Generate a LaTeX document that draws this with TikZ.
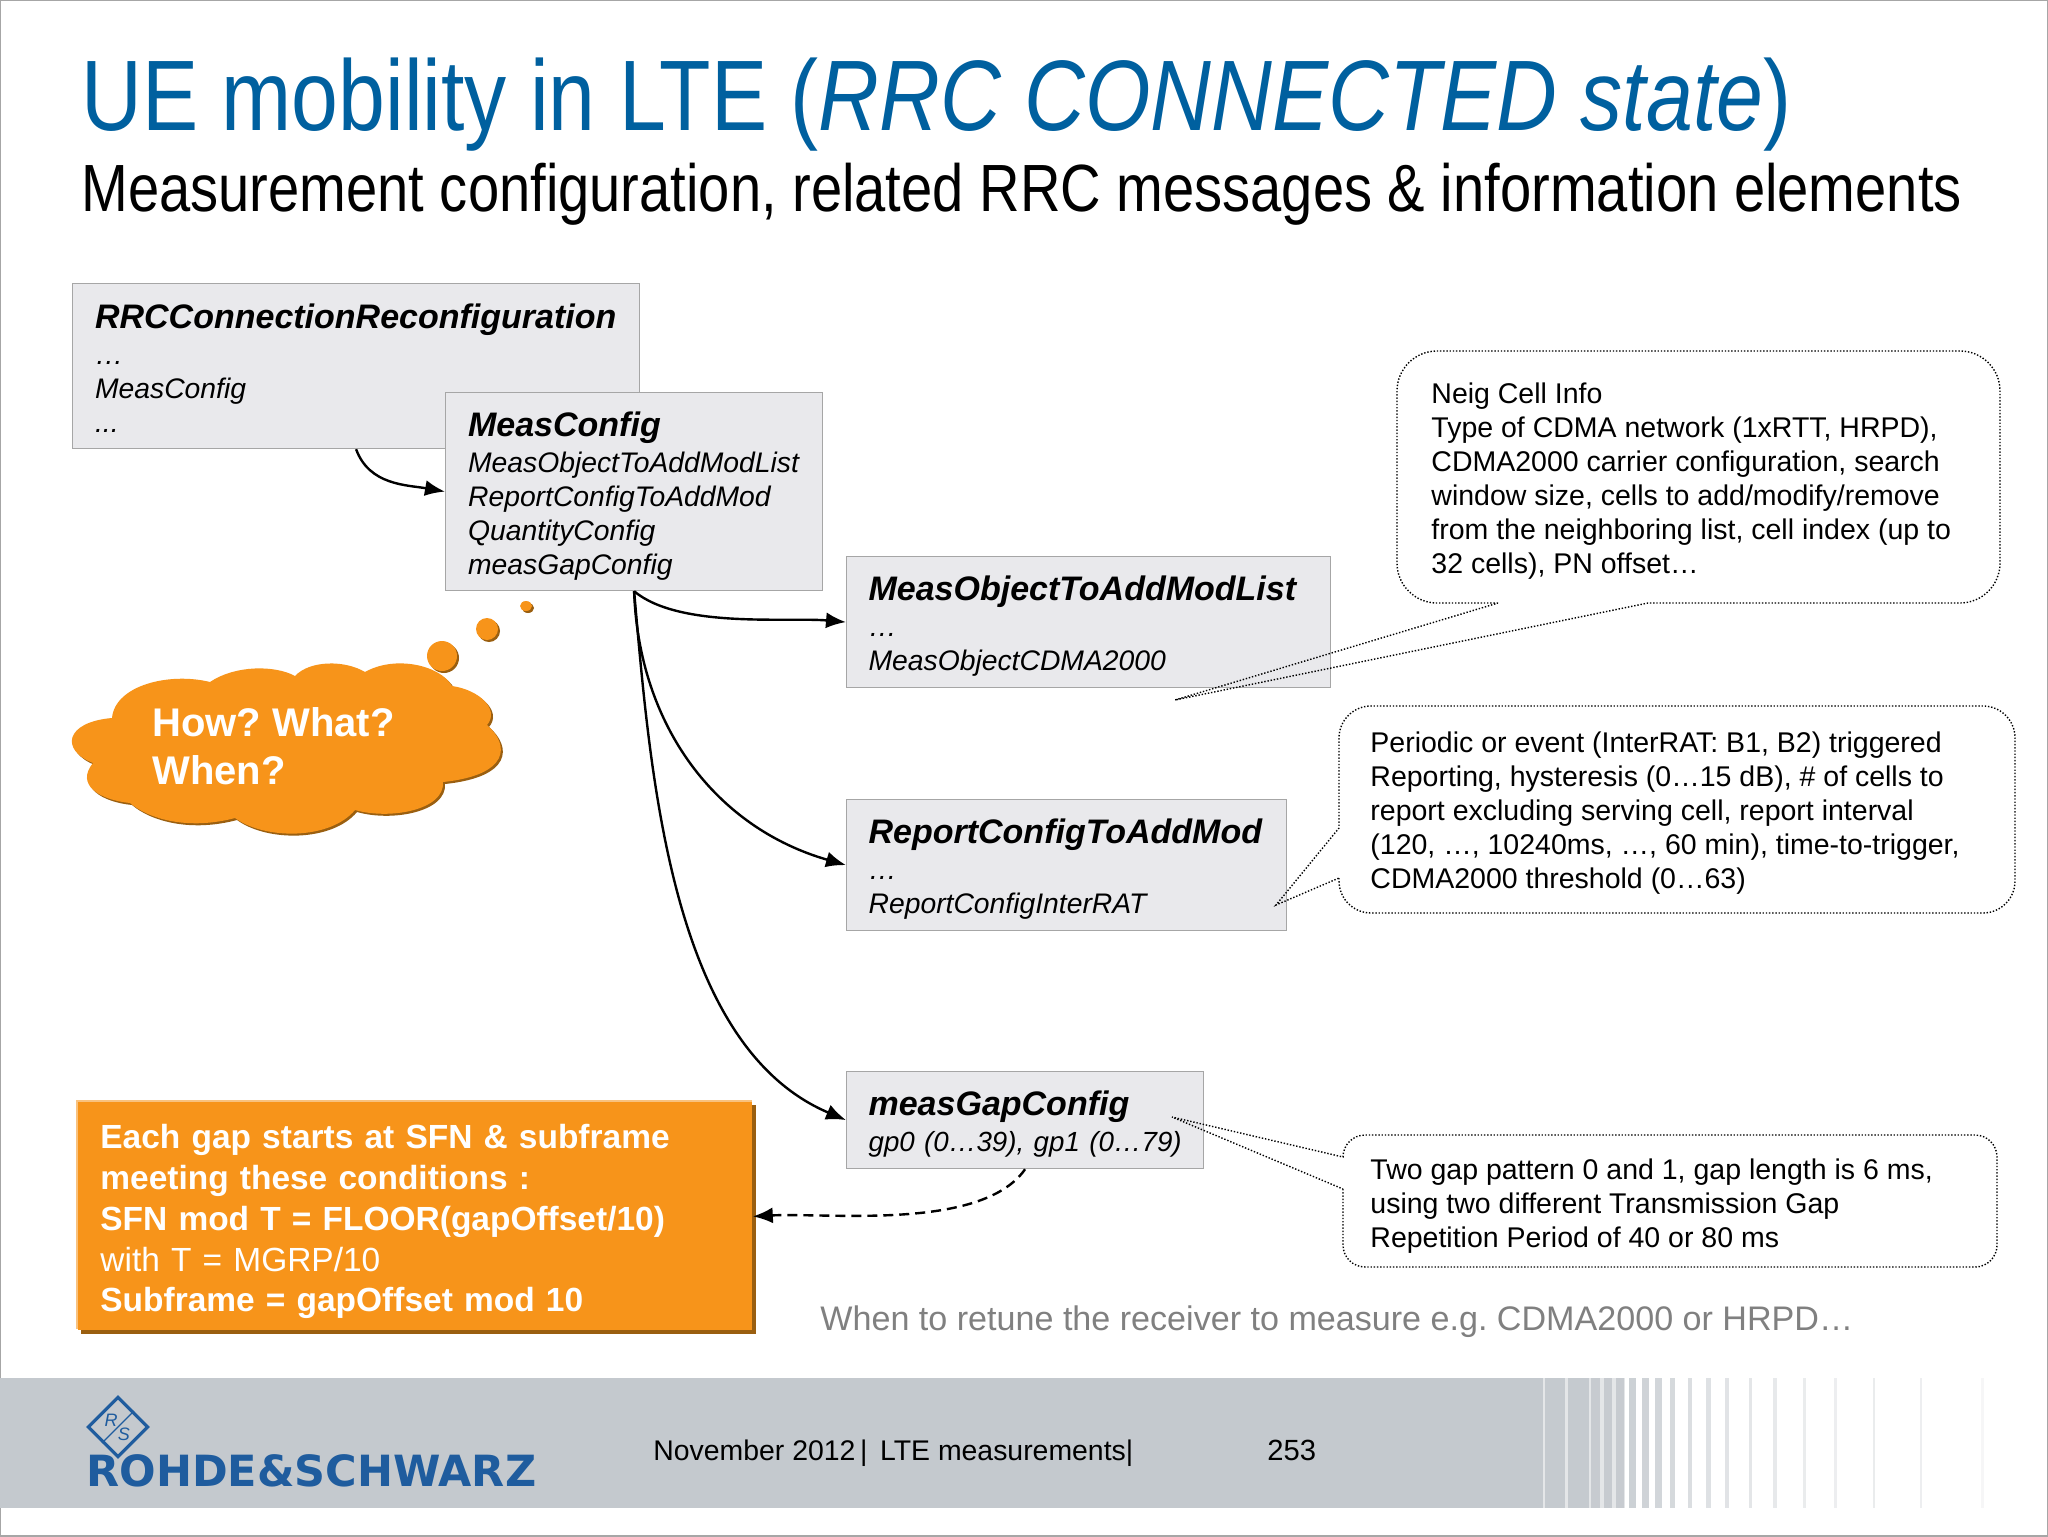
\documentclass[tikz,border=0pt]{standalone}
\usepackage{fontspec}
\setmainfont{Liberation Sans}
\newfontfamily\titlefont[FakeStretch=0.84]{Liberation Sans}
\newfontfamily\logofont{DejaVu Sans}
\usetikzlibrary{arrows.meta}
\definecolor{rsblue}{HTML}{00609F}
\definecolor{logoblue}{HTML}{1F5C9E}
\definecolor{rsorange}{HTML}{F7941A}
\definecolor{rslight}{HTML}{F9C27E}
\definecolor{rsshadow}{HTML}{9A5F10}
\definecolor{boxgrey}{HTML}{E9E9EC}
\definecolor{boxline}{HTML}{A6A6A6}
\definecolor{bandgrey}{HTML}{C4C9CE}
\definecolor{notegrey}{HTML}{808080}
\tikzset{
  msgbox/.style={draw=boxline, fill=boxgrey, line width=0.6pt, anchor=north west, align=left, inner xsep=11pt, inner ysep=0pt, font=\fontsize{14.15}{17}\selectfont\itshape},
  notetext/.style={anchor=north west, align=left, inner sep=0pt, font=\fontsize{14.25}{17}\selectfont},
  notebox/.style={draw=black, line width=0.7pt, dash pattern=on 0.7pt off 0.9pt},
  conn/.style={line width=1.2pt, -{Latex[length=10pt,width=8pt]}},
}
\newcommand{\msgtitle}[1]{{\fontsize{17}{20}\selectfont\bfseries\rule{0pt}{16.5pt}#1}}
\begin{document}
\frenchspacing
\begin{tikzpicture}[x=0.5pt,y=-0.5pt]
\useasboundingbox (0,0) rectangle (2048,1536);
%page and footer band
\fill[white] (0,0) rectangle (2048,1536);
\draw[boxline, line width=1pt] (0,0) rectangle (2048,1536);
\fill[bandgrey] (0,1378) rectangle (1543,1508);
\fill[bandgrey, opacity=.45] (1543,1378) rectangle (1625,1508);
\foreach \xa/\xb/\op in {1545/1565/.95,1568/1589/.95,1591/1600/.9,1604/1612/.9,1616/1624/.9,1629/1636/.85,1642/1649/.8,1655/1662/.75,1670/1675/.7,1688/1692/.6,1706/1711/.55,1725/1729/.5,1749/1752/.45,1773/1777/.4,1803/1806/.35,1834/1837/.3,1873/1875/.35,1920/1922/.3,1981/1984/.15}
  \fill[bandgrey, opacity=\op] (\xa,1378) rectangle (\xb,1508);

%title
\node[anchor=base west, inner sep=0pt, text=rsblue, font=\titlefont\fontsize{50.1}{56}\selectfont] (title) at (81,131) {UE mobility in LTE (\textit{RRC CONNECTED state})};
\node[anchor=base west, inner sep=0pt, font=\titlefont\fontsize{33.4}{38}\selectfont] (subtitle) at (81,211) {Measurement configuration, related RRC messages \& information elements};

%message boxes
\node[msgbox, minimum width=283.5pt, minimum height=82.5pt, text width=261pt] (rrcbox) at (72,283) {\msgtitle{RRCConnectionReconfiguration}\\[1pt] \dots\\ MeasConfig\\ ...\rule[-2pt]{0pt}{2pt}};
\node[msgbox, minimum width=188.5pt, minimum height=99pt, text width=166pt] (measconfig) at (445,392) {\msgtitle{MeasConfig}\\[1pt] MeasObjectToAddModList\\ ReportConfigToAddMod\\ QuantityConfig\\ measGapConfig};
\node[msgbox, minimum width=242pt, minimum height=65.5pt, text width=220pt] (measobject) at (846,556) {\msgtitle{MeasObjectToAddModList}\\[1pt] \dots\\ MeasObjectCDMA2000};
\node[msgbox, minimum width=220pt, minimum height=65.5pt, text width=198pt] (reportconfig) at (846,799) {\msgtitle{ReportConfigToAddMod}\\[1pt] \dots\\ ReportConfigInterRAT};
\node[msgbox, minimum width=178.5pt, minimum height=48.5pt, text width=156.5pt] (measgap) at (846,1071) {\msgtitle{measGapConfig}\\[1pt] \mbox{\fontsize{13.85}{17}\selectfont gp0 (0\dots39), gp1 (0\dots79)}};

%orange box
\fill[rsshadow] (81,1105) rectangle (756,1334);
\fill[rslight] (76,1100) rectangle (752,1329);
\node[anchor=north west, fill=rsorange, minimum width=337pt, minimum height=114pt, inner xsep=11pt, inner ysep=0pt, text width=315pt, align=left, text=white, font=\fontsize{16.74}{20.4}\selectfont] (gapbox) at (78,1102) {\textbf{\rule{0pt}{17.5pt}Each gap starts at SFN \& subframe}\\ \textbf{meeting these conditions :}\\ \textbf{SFN mod T = FLOOR(gapOffset/10)}\\ with T = MGRP/10\\ \textbf{Subframe = gapOffset mod 10}};

%cloud
\foreach \dx/\col in {2/rsshadow,0/rsorange}{
  \fill[\col] (93+\dx,763+\dx) .. controls (60+\dx,750+\dx) and (65+\dx,722+\dx) .. (112+\dx,718+\dx)
    .. controls (115+\dx,685+\dx) and (170+\dx,672+\dx) .. (210+\dx,682+\dx)
    .. controls (235+\dx,665+\dx) and (275+\dx,665+\dx) .. (295+\dx,676+\dx)
    .. controls (310+\dx,660+\dx) and (345+\dx,660+\dx) .. (365+\dx,672+\dx)
    .. controls (395+\dx,655+\dx) and (440+\dx,665+\dx) .. (452+\dx,686+\dx)
    .. controls (480+\dx,690+\dx) and (500+\dx,710+\dx) .. (487+\dx,725+\dx)
    .. controls (510+\dx,745+\dx) and (510+\dx,775+\dx) .. (443+\dx,782+\dx)
    .. controls (445+\dx,810+\dx) and (390+\dx,820+\dx) .. (355+\dx,810+\dx)
    .. controls (330+\dx,840+\dx) and (265+\dx,840+\dx) .. (235+\dx,818+\dx)
    .. controls (190+\dx,830+\dx) and (150+\dx,820+\dx) .. (130+\dx,803+\dx)
    .. controls (100+\dx,800+\dx) and (75+\dx,785+\dx) .. (93+\dx,763+\dx) -- cycle;
  \fill[\col] (442+\dx,656+\dx) circle (15);
  \fill[\col] (487+\dx,629+\dx) circle (11);
  \fill[\col] (526+\dx,606+\dx) ellipse (6 and 5);
}
\node[anchor=north west, inner sep=0pt, align=left, text=white, font=\fontsize{20}{24}\selectfont\bfseries] (cloudtext) at (152,707) {How? What?\\ When?};

%notes
\draw[notebox] (1498,603) [rounded corners=20pt] -- (1397,603) -- (1397,351) -- (2000,351) -- (2000,603) [sharp corners] -- (1648,603) -- (1175,700) -- cycle;
\node[notetext] (cdmanote) at (1431,382) {Neig Cell Info\\ Type of CDMA network (1xRTT, HRPD),\\ CDMA2000 carrier configuration, search\\ window size, cells to add/modify/remove\\ from the neighboring list, cell index (up to\\ 32 cells), PN offset\dots};
\draw[notebox] (1339,878) [rounded corners=16pt] -- (1339,913) -- (2015,913) -- (2015,706) -- (1339,706) [sharp corners] -- (1339,828) -- (1276,905) -- cycle;
\node[notetext] (reportnote) at (1370,731) {Periodic or event (InterRAT: B1, B2) triggered\\ Reporting, hysteresis (0\dots15 dB), \# of cells to\\ report excluding serving cell, report interval\\ (120, \dots, 10240ms, \dots, 60 min), time-to-trigger,\\ CDMA2000 threshold (0\dots63)};
\draw[notebox] (1343,1189) [rounded corners=11pt] -- (1343,1267) -- (1997,1267) -- (1997,1135) -- (1343,1135) [sharp corners] -- (1343,1157) -- (1172,1117) -- cycle;
\node[notetext] (gapnote) at (1370,1158) {Two gap pattern 0 and 1, gap length is 6 ms,\\ using two different Transmission Gap\\ Repetition Period of 40 or 80 ms};

%connectors
\draw[conn] (rrcbox.south) to[out=-70,in=170] (measconfig.west);
\draw[conn] (measconfig.south) to[out=-40,in=175,looseness=.7] (measobject.west);
\draw[conn] (measconfig.south) to[out=-88,in=164] (reportconfig.west);
\draw[conn] (measconfig.south) to[out=-85,in=157,looseness=.85] (measgap.west);
\draw[conn, dash pattern=on 5pt off 3pt] (measgap.south) to[out=-125,in=3,looseness=.7] (gapbox.east);

%grey remark
\node[anchor=base west, inner sep=0pt, text=notegrey, font=\fontsize{17.05}{20}\selectfont] (remark) at (820,1330) {When to retune the receiver to measure e.g. CDMA2000 or HRPD\dots};

%footer
\node[anchor=base west, inner sep=0pt, font=\fontsize{14.2}{17}\selectfont] (footdate) at (653,1460) {November 2012\,|\, LTE measurements|};
\node[anchor=base west, inner sep=0pt, font=\fontsize{14.6}{17}\selectfont] (footpage) at (1267,1460) {253};
\node[draw=logoblue, line width=1.6pt, inner sep=0pt, rotate=45, minimum size=21pt] (logomark) at (118,1427) {};
\draw[logoblue, line width=0.6pt] (logomark.east) -- (logomark.west);
\node[text=logoblue, inner sep=0pt, font=\fontsize{9}{9}\selectfont\itshape] (logor) at (111,1420) {R};
\node[text=logoblue, inner sep=0pt, font=\fontsize{9}{9}\selectfont\itshape] (logos) at (124,1434) {S};
\node[anchor=base west, inner sep=0pt, text=logoblue, font=\logofont\fontsize{21.5}{24}\selectfont\bfseries] (logotext) at (86,1486) {ROHDE\&SCHWARZ};
\end{tikzpicture}
\end{document}
